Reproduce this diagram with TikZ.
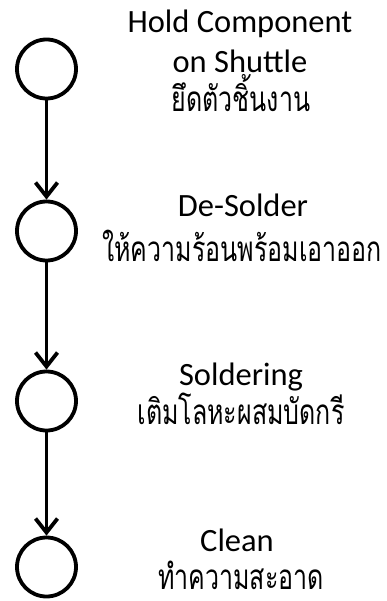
\documentclass[tikz,border=0pt]{standalone}
\usepackage{fontspec}
\setmainfont{Carlito}
\newfontfamily\thaifont[Script=Thai]{Loma}
\usetikzlibrary{arrows.meta}
\tikzset{
  stepcircle/.style={circle,draw,line width=3.8pt,minimum size=59pt,inner sep=0pt},
  flow/.style={line width=3.8pt,-{Straight Barb[length=14pt,width=22pt,line width=3.8pt]}},
  entitle/.style={anchor=base,inner sep=0pt,font=\fontsize{32.5}{40}\selectfont},
  thtitle/.style={anchor=base,inner sep=0pt,yscale=1.4,transform shape,font=\thaifont\fontsize{25}{32}\selectfont}
}
\begin{document}
\begin{tikzpicture}[x=1pt,y=-1pt]
\useasboundingbox (0,0) rectangle (387,601);
\node[stepcircle] (c1) at (46.5,69) {};
\node[stepcircle] (c2) at (46.5,231) {};
\node[stepcircle] (c3) at (46.5,401) {};
\node[stepcircle] (c4) at (46.5,567) {};
\draw[flow] (c1) -- (c2);
\draw[flow] (c2) -- (c3);
\draw[flow] (c3) -- (c4);
\node[entitle] (t1a) at (240,33) {Hold Component};
\node[entitle] (t1b) at (240,73) {on Shuttle};
\node[thtitle] (t1c) at (241,112) {ยึดตัวชิ้นงาน};
\node[entitle] (t2a) at (243,217) {De-Solder};
\node[thtitle] (t2b) at (242,261) {ให้ความร้อนพร้อมเอาออก};
\node[entitle] (t3a) at (241,385) {Soldering};
\node[thtitle] (t3b) at (241,424) {เติมโลหะผสมบัดกรี};
\node[entitle] (t4a) at (237,551) {Clean};
\node[thtitle] (t4b) at (241,589) {ทำความสะอาด};
\end{tikzpicture}
\end{document}
